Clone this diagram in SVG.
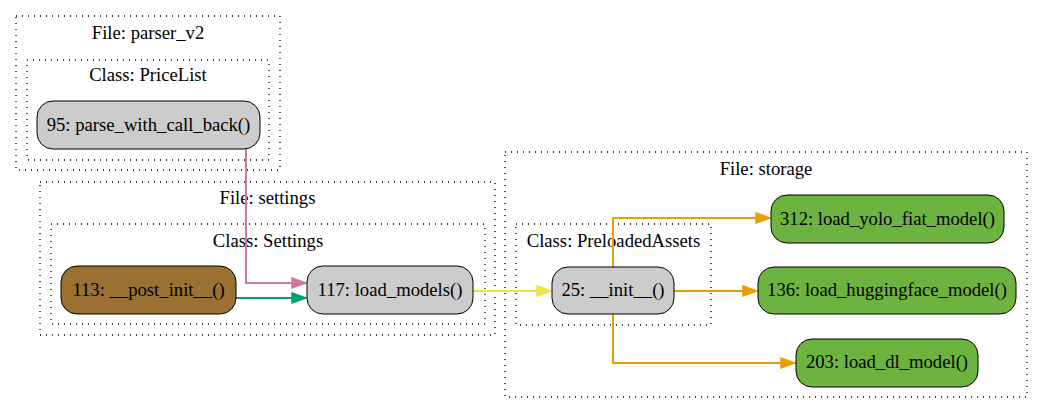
<svg xmlns="http://www.w3.org/2000/svg" width="1042" height="413" viewBox="0 0 1042 413" font-family="'Liberation Serif', 'Times New Roman', serif">
<style>
.cl{fill:none;stroke:#000;stroke-width:1.3;stroke-dasharray:1,5}
text{font-family:'Liberation Serif','Times New Roman',serif;font-size:18.67px;fill:#000;text-anchor:middle}
.n{stroke:#000;stroke-width:1}
.gray{fill:#cccccc}
.brown{fill:#9a7133}
.green{fill:#6db33f}
.e{fill:none;stroke-width:2}
.ah{stroke-width:1.5;stroke-linejoin:miter}
</style>
<defs>
<marker id="aPink" markerUnits="userSpaceOnUse" markerWidth="18" markerHeight="13" refX="1" refY="6" orient="auto"><path class="ah" d="M1,1L15,6L1,11z" fill="#cc79a7" stroke="#cc79a7"/></marker>
<marker id="aGreen" markerUnits="userSpaceOnUse" markerWidth="18" markerHeight="13" refX="1" refY="6" orient="auto"><path class="ah" d="M1,1L15,6L1,11z" fill="#009e73" stroke="#009e73"/></marker>
<marker id="aYellow" markerUnits="userSpaceOnUse" markerWidth="18" markerHeight="13" refX="1" refY="6" orient="auto"><path class="ah" d="M1,1L15,6L1,11z" fill="#f0e442" stroke="#f0e442"/></marker>
<marker id="aOrange" markerUnits="userSpaceOnUse" markerWidth="18" markerHeight="13" refX="1" refY="6" orient="auto"><path class="ah" d="M1,1L15,6L1,11z" fill="#e69f00" stroke="#e69f00"/></marker>
</defs>
<g id="cluster_parser_v2">
<rect class="cl" x="16" y="16" width="264" height="154"/>
<text x="148" y="39">File: parser_v2</text>
</g>
<g id="cluster_PriceList">
<rect class="cl" x="27" y="60" width="242" height="100"/>
<text x="148" y="81">Class: PriceList</text>
</g>
<g id="cluster_settings">
<rect class="cl" x="40" y="182" width="455" height="153"/>
<text x="267.5" y="204">File: settings</text>
</g>
<g id="cluster_Settings">
<rect class="cl" x="51" y="224" width="434" height="100"/>
<text x="268" y="247">Class: Settings</text>
</g>
<g id="cluster_storage">
<rect class="cl" x="505" y="152" width="522" height="245"/>
<text x="766" y="175">File: storage</text>
</g>
<g id="cluster_PreloadedAssets">
<rect class="cl" x="516" y="224" width="195" height="101"/>
<text x="613.5" y="247">Class: PreloadedAssets</text>
</g>
<g id="edges">
<path class="e" stroke="#cc79a7" d="M246,149V283H292" marker-end="url(#aPink)"/>
<path class="e" stroke="#009e73" d="M236,298H292" marker-end="url(#aGreen)"/>
<path class="e" stroke="#f0e442" d="M473,291H537" marker-end="url(#aYellow)"/>
<path class="e" stroke="#e69f00" d="M613,267V218H756" marker-end="url(#aOrange)"/>
<path class="e" stroke="#e69f00" d="M674,291H743" marker-end="url(#aOrange)"/>
<path class="e" stroke="#e69f00" d="M613,314V363H781" marker-end="url(#aOrange)"/>
</g>
<g id="node_parse_with_call_back">
<rect class="n gray" x="37" y="101" width="223" height="48" rx="16"/>
<text x="148.5" y="131">95: parse_with_call_back()</text>
</g>
<g id="node_post_init">
<rect class="n brown" x="61" y="266" width="175" height="48" rx="16"/>
<text x="148.5" y="296">113: __post_init__()</text>
</g>
<g id="node_load_models">
<rect class="n gray" x="307" y="266" width="166" height="48" rx="16"/>
<text x="390" y="296">117: load_models()</text>
</g>
<g id="node_init">
<rect class="n gray" x="552" y="267" width="122" height="47" rx="16"/>
<text x="613" y="296">25: __init__()</text>
</g>
<g id="node_load_yolo_fiat_model">
<rect class="n green" x="771" y="195" width="233" height="48" rx="16"/>
<text x="887.5" y="225">312: load_yolo_fiat_model()</text>
</g>
<g id="node_load_huggingface_model">
<rect class="n green" x="758" y="267" width="258" height="47" rx="16"/>
<text x="887" y="296">136: load_huggingface_model()</text>
</g>
<g id="node_load_dl_model">
<rect class="n green" x="796" y="339" width="182" height="48" rx="16"/>
<text x="887" y="368">203: load_dl_model()</text>
</g>
</svg>
